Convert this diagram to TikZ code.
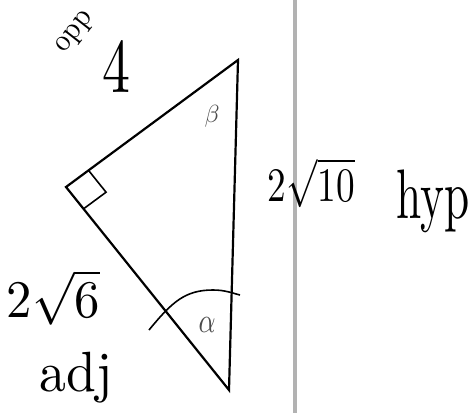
\documentclass[tikz,border=0pt]{standalone}
\usepackage{graphicx}
\usetikzlibrary{calc}
\newcommand{\fitbox}[3]{\resizebox*{#1}{#2}{#3}}
\begin{document}
\begin{tikzpicture}[x=1pt,y=-1pt,
  hand/.style={inner sep=0pt, outer sep=0pt},
  small/.style={inner sep=0pt, outer sep=0pt, text=black!70},
  edge/.style={line width=2.2pt, black},
  thin/.style={line width=1.6pt, black}]
\useasboundingbox (0,0) rectangle (474,413);
\fill[white] (0,0) rectangle (474,413);
% page fold line
\draw[line width=4pt, black!30] (295,0) -- (295,413);
% triangle
\coordinate (T) at (238,60);
\coordinate (R) at (66,187);
\coordinate (B) at (229,390);
\draw[edge, line join=miter] (T) -- (R) -- (B) -- cycle;
% right angle mark
\coordinate (Q1) at ($(R)!28pt!(T)$);
\coordinate (Q2) at ($(R)!28pt!(B)$);
\draw[thin] (Q1) -- ($(Q1)+(Q2)-(R)$) -- (Q2);
% angle arc at alpha
\coordinate (A1) at (149,330);
\coordinate (A2) at (240,295);
\draw[thin] (A1) .. controls (172,302) and (185,290) .. (213,290) .. controls (225,290) and (232,293) .. (A2);
% labels
\node[hand, rotate=52] (opp) at (76,33) {\fitbox{46pt}{20pt}{opp}};
\node[hand] (four) at (116,66) {\fitbox{28pt}{52pt}{4}};
\node[small] (beta) at (212,116) {\fitbox{15pt}{22pt}{$\beta$}};
\node[small] (alpha) at (207,325) {\fitbox{17pt}{15pt}{$\alpha$}};
\node[hand] (hypl) at (311.5,183) {\fitbox{87pt}{50pt}{$2\sqrt{10}$}};
\node[hand] (hyp) at (433.5,201.5) {\fitbox{73pt}{63pt}{hyp}};
\node[hand] (adjl) at (53.5,297.5) {\fitbox{93pt}{55pt}{$2\sqrt{6}$}};
\node[hand] (adj) at (76.5,377.5) {\fitbox{73pt}{51pt}{adj}};
\end{tikzpicture}
\end{document}
